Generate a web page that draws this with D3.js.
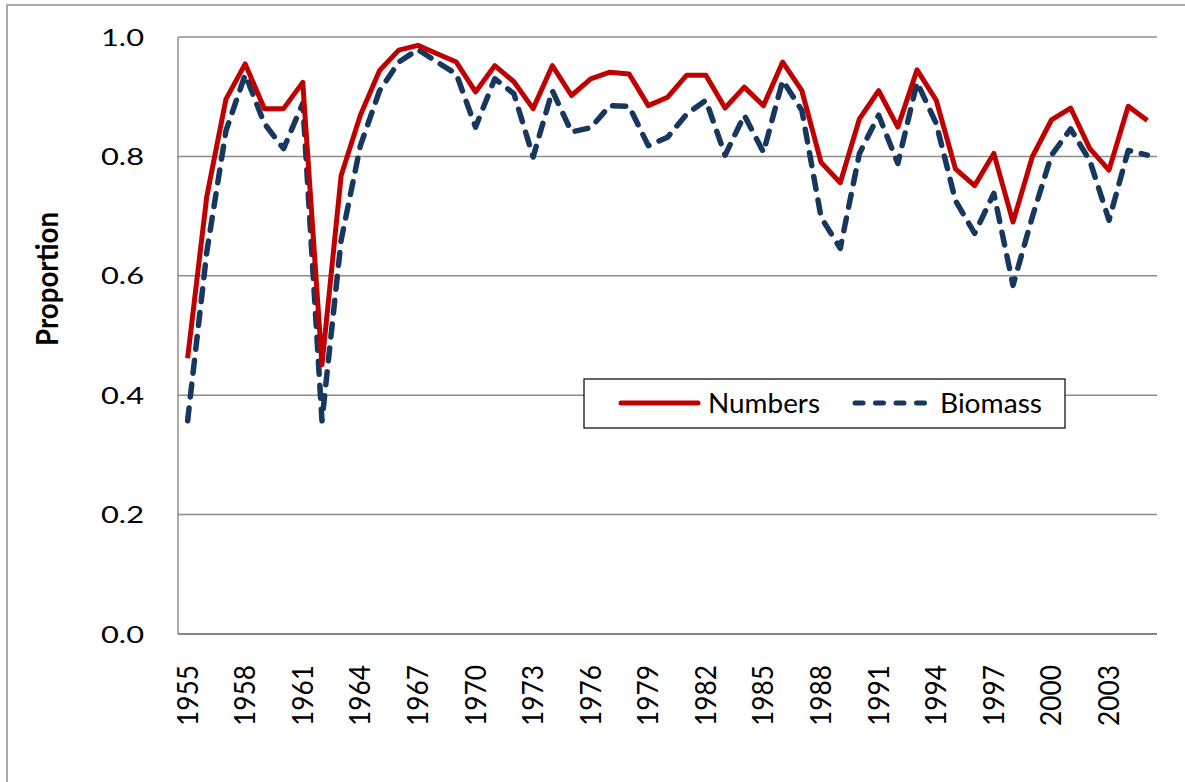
<!DOCTYPE html>
<html>
<head>
<meta charset="utf-8">
<script src="https://cdn.jsdelivr.net/npm/d3@7"></script>
<style>
  html, body { margin: 0; padding: 0; background: #fff; }
  text { font-family: Lato, "Open Sans", sans-serif; fill: #000; }
</style>
</head>
<body>
<div id="main"></div>
<script>
// data
var years = d3.range(1955, 2006);
var numbers = [0.462, 0.733, 0.896, 0.955, 0.880, 0.880, 0.924, 0.451, 0.768, 0.869,
               0.944, 0.978, 0.986, 0.972, 0.958, 0.908, 0.952, 0.925, 0.880, 0.952,
               0.902, 0.930, 0.941, 0.938, 0.885, 0.899, 0.936, 0.936, 0.881, 0.916,
               0.885, 0.958, 0.910, 0.790, 0.756, 0.863, 0.910, 0.849, 0.945, 0.894,
               0.779, 0.751, 0.805, 0.690, 0.799, 0.861, 0.881, 0.813, 0.777, 0.884,
               0.860];
var biomass = [0.357, 0.640, 0.843, 0.937, 0.855, 0.813, 0.889, 0.357, 0.660, 0.818,
               0.910, 0.958, 0.979, 0.958, 0.938, 0.849, 0.930, 0.905, 0.799, 0.910,
               0.841, 0.848, 0.885, 0.884, 0.818, 0.832, 0.871, 0.894, 0.802, 0.869,
               0.807, 0.927, 0.877, 0.698, 0.646, 0.805, 0.869, 0.788, 0.924, 0.855,
               0.726, 0.671, 0.738, 0.584, 0.698, 0.802, 0.846, 0.793, 0.693, 0.810,
               0.802];
var yTicks = [0, 0.2, 0.4, 0.6, 0.8, 1.0];
var xTickYears = d3.range(1955, 2004, 3);
var seriesNames = ["Numbers", "Biomass"];

var ctx = {
    w: 1185,
    h: 782,
    left: 178,
    right: 1157,
    top: 37,
    bottom: 634,
    red: "#C00000",
    blue: "#17375E",
    grid: "#8c8c8c"
};

var svg = d3.select("#main").append("svg")
    .attr("width", ctx.w)
    .attr("height", ctx.h);

// outer frame of the chart area
svg.append("rect")
    .attr("x", 7).attr("y", 5)
    .attr("width", ctx.w + 10).attr("height", ctx.h + 10)
    .attr("fill", "none")
    .attr("stroke", "#8c8c8c")
    .attr("stroke-width", 1.5);

var x = d3.scaleBand().domain(years).range([ctx.left, ctx.right]);
var y = d3.scaleLinear().domain([0, 1]).range([ctx.bottom, ctx.top]);

// gridlines
svg.append("g").selectAll("line")
    .data(yTicks.filter(function(d) { return d > 0; }))
    .enter().append("line")
    .attr("x1", ctx.left).attr("x2", ctx.right)
    .attr("y1", function(d) { return y(d); })
    .attr("y2", function(d) { return y(d); })
    .attr("stroke", ctx.grid)
    .attr("stroke-width", 1.5);

// axes lines
svg.append("line")
    .attr("x1", ctx.left).attr("x2", ctx.left)
    .attr("y1", y(1)).attr("y2", y(0))
    .attr("stroke", ctx.grid).attr("stroke-width", 1.5);
svg.append("line")
    .attr("x1", ctx.left).attr("x2", ctx.right)
    .attr("y1", y(0)).attr("y2", y(0))
    .attr("stroke", "#868686").attr("stroke-width", 2);

// y tick labels
svg.append("g").selectAll("text")
    .data(yTicks)
    .enter().append("text")
    .attr("x", 144)
    .attr("y", function(d) { return y(d) + 8.5; })
    .attr("text-anchor", "end")
    .attr("font-size", 24)
    .attr("textLength", 43)
    .attr("lengthAdjust", "spacingAndGlyphs")
    .text(function(d) { return d3.format(".1f")(d); });

// x tick labels (rotated)
svg.append("g").selectAll("text")
    .data(xTickYears)
    .enter().append("text")
    .attr("transform", function(d) {
        return "translate(" + (x(d) + x.bandwidth() / 2 + 10) + ",665) rotate(-90)";
    })
    .attr("text-anchor", "end")
    .attr("font-size", 28)
    .attr("textLength", 61)
    .attr("lengthAdjust", "spacingAndGlyphs")
    .text(function(d) { return d; });

// y axis title
svg.append("text")
    .attr("transform", "translate(58,279) rotate(-90)")
    .attr("text-anchor", "middle")
    .attr("font-size", 31)
    .attr("font-weight", "bold")
    .attr("textLength", 134)
    .attr("lengthAdjust", "spacingAndGlyphs")
    .text("Proportion");

// lines
var line = function(vals) {
    return d3.line()
        .x(function(d, i) { return x(years[i]) + x.bandwidth() / 2; })
        .y(function(d) { return y(d); })(vals);
};

svg.append("path")
    .attr("d", line(biomass))
    .attr("fill", "none")
    .attr("stroke", ctx.blue)
    .attr("stroke-width", 5.5)
    .attr("stroke-linecap", "round")
    .attr("stroke-linejoin", "round")
    .attr("stroke-dasharray", "13,11");

svg.append("path")
    .attr("d", line(numbers))
    .attr("fill", "none")
    .attr("stroke", ctx.red)
    .attr("stroke-width", 5)
    .attr("stroke-linejoin", "round");

// legend
var legend = svg.append("g");
legend.append("rect")
    .attr("x", 584).attr("y", 379)
    .attr("width", 481).attr("height", 49)
    .attr("fill", "#fff")
    .attr("stroke", "#000")
    .attr("stroke-width", 1.2);

legend.append("line")
    .attr("x1", 621).attr("x2", 698)
    .attr("y1", 403).attr("y2", 403)
    .attr("stroke", ctx.red).attr("stroke-width", 5)
    .attr("stroke-linecap", "round");
legend.append("text")
    .attr("x", 708).attr("y", 413)
    .attr("font-size", 26)
    .attr("textLength", 112)
    .attr("lengthAdjust", "spacingAndGlyphs")
    .text(seriesNames[0]);

legend.append("line")
    .attr("x1", 855).attr("x2", 930)
    .attr("y1", 403).attr("y2", 403)
    .attr("stroke", ctx.blue).attr("stroke-width", 5)
    .attr("stroke-linecap", "round")
    .attr("stroke-dasharray", "8,12.5");
legend.append("text")
    .attr("x", 940).attr("y", 413)
    .attr("font-size", 26)
    .attr("textLength", 102)
    .attr("lengthAdjust", "spacingAndGlyphs")
    .text(seriesNames[1]);
</script>
</body>
</html>
